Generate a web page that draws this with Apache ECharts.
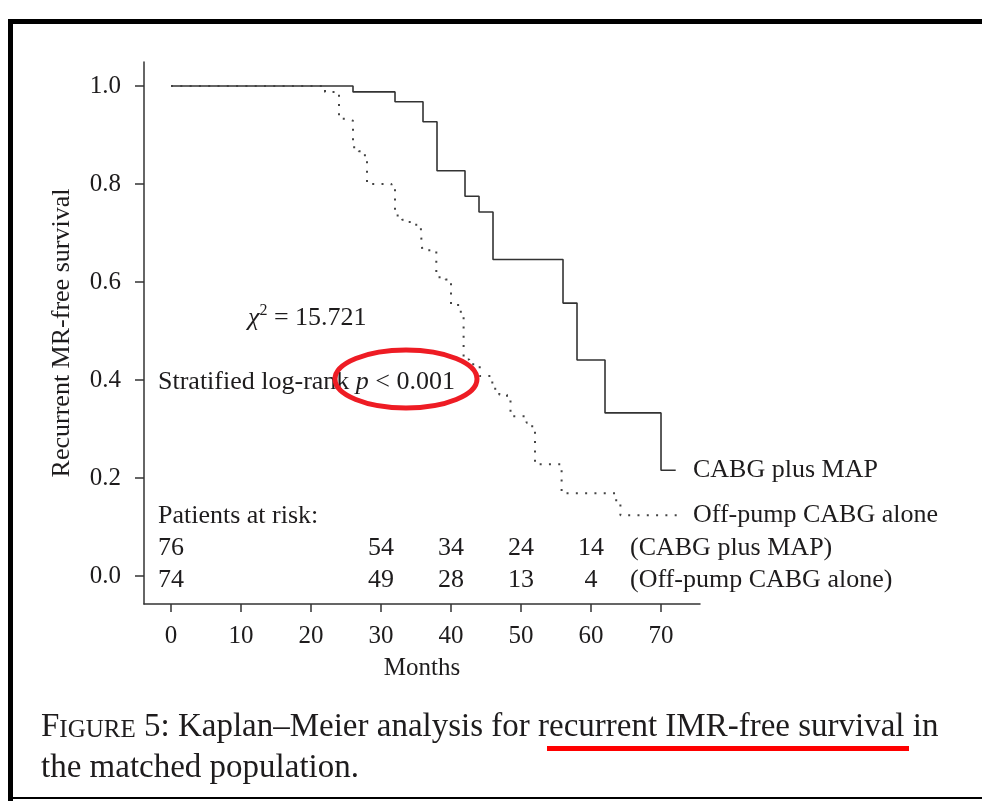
<!DOCTYPE html>
<html>
<head>
<meta charset="utf-8">
<script src="https://cdn.jsdelivr.net/npm/echarts@6/dist/echarts.min.js"></script>
<style>
html, body { margin: 0; padding: 0; background: #fff; }
#chart { width: 982px; height: 801px; }
</style>
</head>
<body>
<div id="chart"></div>
<script>
var SERIF = "'Liberation Serif', 'DejaVu Serif', serif";
var INK = '#1e1c1d';

// Kaplan-Meier step points (month, survival after the drop)
var cabgMonths = [0, 26, 32, 36, 38, 42, 44, 46, 56, 58, 62, 70, 72.1];
var cabgSurv = [1.0, 0.988, 0.968, 0.927, 0.827, 0.775, 0.743, 0.646, 0.557, 0.441, 0.333, 0.216, 0.216];

var offMonths = [0, 22, 24, 25.2, 26, 26.8, 27.7, 28, 31.5, 32, 33, 34.1, 35.3, 35.7, 35.9, 37.9, 39.2, 40, 41.4, 41.8,
    42.6, 44.1, 45.9, 46.9, 48, 48.5, 50.8, 51.6, 52, 55.8, 63.6, 64.2, 72.8];
var offSurv = [1.0, 0.988, 0.933, 0.929, 0.875, 0.867, 0.856, 0.80, 0.791, 0.736, 0.727, 0.717, 0.711, 0.70, 0.665, 0.61, 0.605, 0.553, 0.532, 0.442,
    0.432, 0.408, 0.382, 0.37, 0.362, 0.326, 0.313, 0.303, 0.228, 0.169, 0.149, 0.124, 0.124];

// patients at risk
var riskMonths = [0, 30, 40, 50, 60];
var riskCabg = [76, 54, 34, 24, 14];
var riskOff = [74, 49, 28, 13, 4];

var xTicks = [0, 10, 20, 30, 40, 50, 60, 70];
var yTicks = [0, 0.2, 0.4, 0.6, 0.8, 1.0];

function pairs(xs, ys) {
    var out = [];
    for (var i = 0; i < xs.length; i++) out.push([xs[i], ys[i]]);
    return out;
}

function txt(x, y, text, size, align, rich) {
    return {
        type: 'text', x: x, y: y, silent: true,
        style: {
            text: text, fontFamily: SERIF, fontSize: size, fill: INK,
            align: align || 'left', textAlign: align || 'left',
            verticalAlign: 'middle', textVerticalAlign: 'middle',
            lineHeight: size + 4,
            rich: rich
        }
    };
}

var chart = echarts.init(document.getElementById('chart'));
var option = {
    animation: false,
    backgroundColor: '#fff',
    grid: { left: 144, top: 62, width: 556, height: 542 },
    xAxis: {
        type: 'value', min: -3.857, max: 75.57,
        name: 'Months', nameLocation: 'middle', nameGap: 52,
        nameTextStyle: { fontFamily: SERIF, fontSize: 25, color: INK },
        axisLine: { onZero: false, lineStyle: { color: '#333', width: 1.5 } },
        axisTick: { customValues: xTicks, length: 8, lineStyle: { color: '#333', width: 1.5 } },
        axisLabel: { customValues: xTicks, margin: 20, fontFamily: SERIF, fontSize: 25, color: INK },
        splitLine: { show: false }
    },
    yAxis: {
        type: 'value', min: -0.057, max: 1.049,
        name: 'Recurrent MR-free survival', nameLocation: 'middle', nameGap: 69,
        nameTextStyle: { fontFamily: SERIF, fontSize: 26, color: INK },
        axisLine: { show: true, onZero: false, lineStyle: { color: '#333', width: 1.5 } },
        axisTick: { show: true, customValues: yTicks, length: 9, lineStyle: { color: '#333', width: 1.5 } },
        axisLabel: {
            customValues: yTicks, margin: 23, fontFamily: SERIF, fontSize: 25, color: INK,
            formatter: function (v) { return v.toFixed(1); }
        },
        splitLine: { show: false }
    },
    series: [
        {
            name: 'CABG plus MAP', type: 'line', step: 'end', symbol: 'none', z: 3,
            data: pairs(cabgMonths, cabgSurv),
            lineStyle: { color: '#333', width: 1.6 }
        },
        {
            name: 'Off-pump CABG alone', type: 'line', step: 'end', symbol: 'none',
            data: pairs(offMonths, offSurv),
            lineStyle: { color: '#444', width: 2, type: [2, 7.3] }
        }
    ]
};
chart.setOption(option);

// annotations, risk table, caption and frame
var els = [
    { type: 'rect', shape: { x: 8, y: 19, width: 974, height: 5 }, style: { fill: '#000' } },
    { type: 'rect', shape: { x: 8, y: 19, width: 5, height: 782 }, style: { fill: '#000' } },
    { type: 'rect', shape: { x: 8, y: 797, width: 974, height: 2 }, style: { fill: '#000' } },

    txt(248, 318, '{it|χ}{sup|2} = 15.721', 26, 'left', {
        it: { fontStyle: 'italic', fontFamily: SERIF, fontSize: 26, fill: INK },
        sup: { fontFamily: SERIF, fontSize: 16, fill: INK, verticalAlign: 'top' }
    }),
    txt(158, 382, 'Stratified log-rank {it|p} < 0.001', 26, 'left', {
        it: { fontStyle: 'italic', fontFamily: SERIF, fontSize: 26, fill: INK }
    }),
    { type: 'ellipse', shape: { cx: 406, cy: 379, rx: 71, ry: 29 }, style: { fill: 'none', stroke: '#ee1c24', lineWidth: 5 }, z: 10 },

    txt(693, 470, 'CABG plus MAP', 26),
    txt(693, 515, 'Off-pump CABG alone', 26),
    txt(158, 516, 'Patients at risk:', 26),
    txt(630, 548, '(CABG plus MAP)', 26),
    txt(630, 580, '(Off-pump CABG alone)', 26),

    txt(41, 727, '{big|F}{sc|IGURE} 5: Kaplan\u2013Meier analysis for recurrent IMR-free survival in', 33, 'left', {
        big: { fontFamily: SERIF, fontSize: 33, fill: INK },
        sc: { fontFamily: SERIF, fontSize: 25, fill: INK, verticalAlign: 'bottom', padding: [0, 0, 3, 0] }
    }),
    txt(41, 768, 'the matched population.', 33),
    { type: 'rect', shape: { x: 547, y: 746, width: 362, height: 5 }, style: { fill: '#ff0000' } }
];

for (var i = 0; i < riskMonths.length; i++) {
    var px = chart.convertToPixel({ xAxisIndex: 0 }, riskMonths[i]);
    els.push(txt(px, 548, String(riskCabg[i]), 26, 'center'));
    els.push(txt(px, 580, String(riskOff[i]), 26, 'center'));
}

chart.setOption({ graphic: els });
</script>
</body>
</html>
